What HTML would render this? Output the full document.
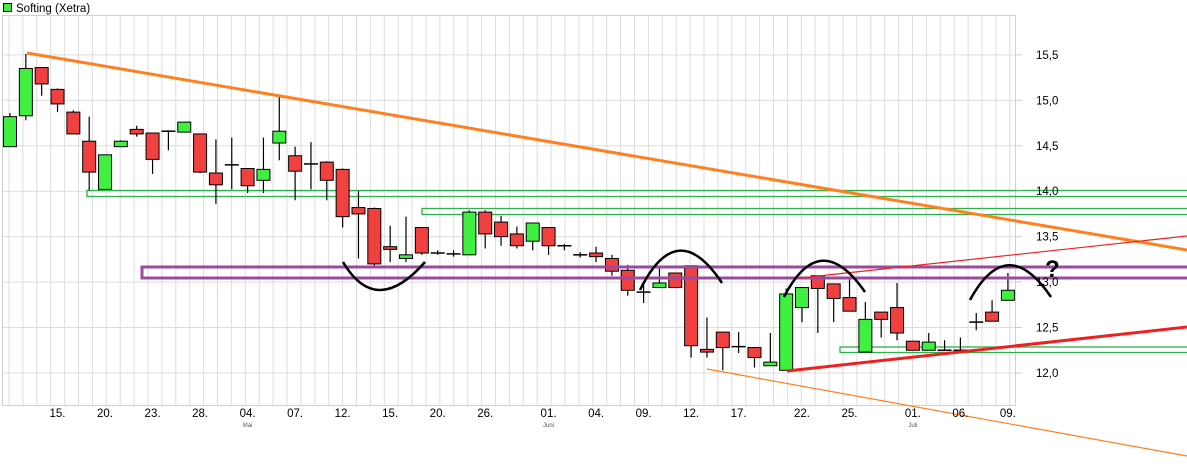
<!DOCTYPE html>
<html><head><meta charset="utf-8">
<style>
html,body{margin:0;padding:0;background:#fff;}
svg{display:block;font-family:"Liberation Sans",sans-serif;}
</style></head>
<body>
<svg id="chart" width="1187" height="468" viewBox="0 0 1187 468" xmlns="http://www.w3.org/2000/svg">
  <g id="grid"></g>
  <g id="overlays-back">
    <rect x="87" y="190.5" width="1110" height="6" fill="none" stroke="#2db14a" stroke-width="1.3"/>
    <rect x="422" y="208.5" width="775" height="6" fill="none" stroke="#2db14a" stroke-width="1.3"/>
    <rect x="840" y="347" width="357" height="5.5" fill="none" stroke="#2db14a" stroke-width="1.3"/>
  </g>
  <g id="candles"></g>
  <g id="overlays">
    <rect x="142" y="267" width="1060" height="11" fill="none" stroke="#9b4aa0" stroke-width="3"/>
    <line x1="27" y1="53" x2="1187" y2="250" stroke="#ff8020" stroke-width="3"/>
    <line x1="707" y1="369" x2="1187" y2="456" stroke="#ff8020" stroke-width="1.2"/>
    <line x1="800" y1="278" x2="1187" y2="236" stroke="#f02020" stroke-width="1.2"/>
    <line x1="787" y1="371" x2="1187" y2="327" stroke="#f02020" stroke-width="3"/>
    <path d="M343 262 Q376 318 425 262" fill="none" stroke="#000" stroke-width="2.5"/>
    <path d="M640 290 Q677 215 722 283" fill="none" stroke="#000" stroke-width="2.5"/>
    <path d="M784 297 Q820 227 865 292" fill="none" stroke="#000" stroke-width="2.5"/>
    <path d="M970 300 Q1007 232 1051 297" fill="none" stroke="#000" stroke-width="2.5"/>
    <text x="1045" y="277" font-size="24" font-weight="bold" fill="#000">?</text>
  </g>
  <g id="axes"></g>
  <rect x="3.5" y="3.5" width="8" height="8" fill="#40f040" stroke="#000" stroke-width="1"/>
  <text x="16" y="12" font-size="11.5" fill="#000">Softing (Xetra)</text>
</svg>
<script>
const opens  = [14.49,14.83,15.36,15.12,14.87,14.55,14.02,14.49,14.68,14.64,14.66,14.65,14.63,14.20,14.29,14.25,14.12,14.53,14.39,14.30,14.32,14.24,13.82,13.81,13.39,13.26,13.60,13.32,13.31,13.30,13.77,13.66,13.53,13.45,13.60,13.40,13.30,13.32,13.26,13.13,12.89,12.94,13.10,13.18,12.26,12.45,12.29,12.28,12.08,12.03,12.72,13.07,12.98,12.83,12.23,12.67,12.72,12.35,12.25,12.25,12.25,12.56,12.67,12.80];
const closes = [14.82,15.35,15.18,14.96,14.63,14.21,14.40,14.55,14.63,14.35,14.66,14.76,14.21,14.07,14.29,14.06,14.24,14.66,14.22,14.30,14.12,13.72,13.75,13.20,13.36,13.30,13.32,13.32,13.31,13.77,13.53,13.50,13.40,13.65,13.40,13.40,13.30,13.28,13.12,12.91,12.89,12.99,12.94,12.30,12.23,12.28,12.29,12.17,12.12,12.87,12.94,12.93,12.82,12.68,12.59,12.59,12.44,12.25,12.34,12.25,12.25,12.56,12.57,12.91];
const highs  = [14.86,15.51,15.36,15.13,14.89,14.82,14.40,14.56,14.72,14.64,14.67,14.76,14.63,14.57,14.59,14.25,14.59,15.04,14.49,14.54,14.33,14.25,14.00,13.82,13.62,13.72,13.60,13.35,13.35,13.79,13.79,13.73,13.61,13.65,13.60,13.42,13.33,13.39,13.30,13.19,12.99,13.15,13.10,13.18,12.61,12.45,12.45,12.28,12.44,12.93,12.94,13.07,12.98,13.03,12.78,12.67,12.99,12.35,12.44,12.36,12.39,12.66,12.80,13.10];
const lows   = [14.49,14.78,15.05,14.87,14.63,14.01,14.02,14.49,14.60,14.19,14.45,14.65,14.20,13.86,14.02,13.98,13.98,14.34,13.90,14.02,13.90,13.60,13.26,13.18,13.22,13.22,13.30,13.30,13.28,13.30,13.37,13.40,13.37,13.35,13.30,13.35,13.27,13.22,13.07,12.85,12.77,12.94,12.94,12.17,12.17,12.03,12.22,12.06,12.08,12.03,12.56,12.44,12.56,12.68,12.23,12.39,12.36,12.25,12.25,12.25,12.25,12.47,12.57,12.80];
const yTicks = [15.5,15.0,14.5,14.0,13.5,13.0,12.5,12.0];
const yTickLabels = ["15,5","15,0","14,5","14,0","13,5","13,0","12,5","12,0"];
const xLabelIdx = [3,6,9,12,15,18,21,24,27,30,34,37,40,43,46,50,53,57,60,63];
const xLabels = ["15.","20.","23.","28.","04.","07.","12.","15.","20.","26.","01.","04.","09.","12.","17.","22.","25.","01.","06.","09."];
const monthIdx = [15,34,57];
const monthLabels = ["Mai","Juni","Juli"];

const NS="http://www.w3.org/2000/svg";
const X0=10, DX=15.84;
function xs(i){return X0+i*DX;}
function ys(p){return 373-(p-12)*90.9;}
function mk(tag,attrs,parent){const e=document.createElementNS(NS,tag);for(const k in attrs)e.setAttribute(k,attrs[k]);parent.appendChild(e);return e;}

const grid=document.getElementById('grid');
for(let gx=9; gx<1016; gx+=13.9){
  const l=mk('line',{x1:gx,y1:15,x2:gx,y2:405,stroke:'#dcdcdc','stroke-width':1},grid);
  
  
}
yTicks.forEach(function(t){
  const l=mk('line',{x1:2,y1:ys(t),x2:1016,y2:ys(t),stroke:'#dcdcdc','stroke-width':1},grid);
  
  
});
const frame=mk('rect',{x:2.5,y:15.5,width:1013,height:390,fill:'none',stroke:'#d0d0d0','stroke-width':1},grid);



const cg=document.getElementById('candles');
for(let i=0;i<opens.length;i++){
  const x=xs(i), o=opens[i], c=closes[i];
  const g=mk('g',{},cg);
  
  
  mk('line',{x1:x,y1:ys(highs[i]),x2:x,y2:ys(lows[i]),stroke:'#000','stroke-width':1.2},g);
  const top=ys(Math.max(o,c)), bot=ys(Math.min(o,c));
  if(Math.abs(o-c)<0.015){
    mk('line',{x1:x-7,y1:top,x2:x+7,y2:top,stroke:'#000','stroke-width':1.5},g);
  } else {
    mk('rect',{x:x-6.5,y:top,width:13,height:Math.max(bot-top,2),fill:c>o?'#40f040':'#f04040',stroke:'#000','stroke-width':1},g);
  }
}

const ax=document.getElementById('axes');
yTicks.forEach(function(t,k){
  const tx=mk('text',{x:1036,y:ys(t)+4,'font-size':11.5,fill:'#000'},ax);
  tx.textContent=yTickLabels[k];
  
  
  const tk=mk('line',{x1:1016,y1:ys(t),x2:1022,y2:ys(t),stroke:'#ccc'},ax);
  
  
});
xLabelIdx.forEach(function(idx,k){
  const tx=mk('text',{x:xs(idx),y:417,'font-size':11.5,fill:'#000','text-anchor':'middle'},ax);
  tx.textContent=xLabels[k];
  
  
});
monthIdx.forEach(function(idx,k){
  const tx=mk('text',{x:xs(idx),y:427,'font-size':6,fill:'#555','text-anchor':'middle'},ax);
  tx.textContent=monthLabels[k];
  
  
});
</script>
</body></html>
